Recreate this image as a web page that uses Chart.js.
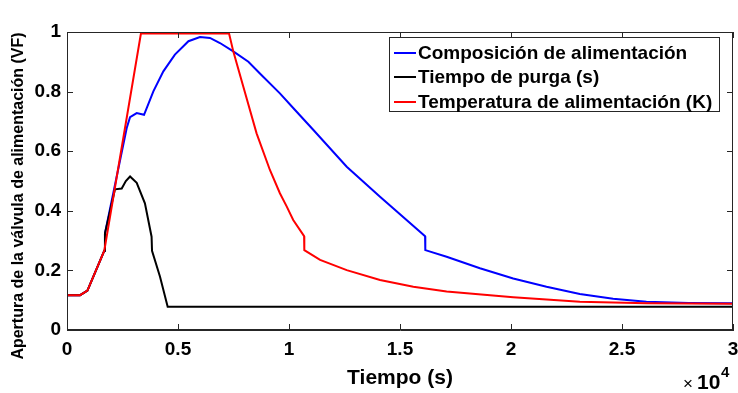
<!DOCTYPE html>
<html>
<head>
<meta charset="utf-8">
<script src="https://cdn.jsdelivr.net/npm/chart.js@4/dist/chart.umd.min.js"></script>
<style>
  html, body { margin: 0; padding: 0; background: #fff; }
  #wrap { position: relative; width: 738px; height: 393px; }
  #legend {
    position: absolute; left: 389px; top: 37px; width: 329px; height: 73px;
    border: 1px solid #262626; background: #fff; box-sizing: content-box;
    font-family: 'Liberation Sans', Arial, sans-serif; font-weight: bold; font-size: 19px; color: #000;
  }
  .row { position: absolute; left: 0; height: 24px; display: flex; align-items: center; white-space: nowrap; }
  .sw { display: inline-block; width: 22px; height: 2px; margin-left: 4px; margin-right: 2px; }
</style>
</head>
<body>
<div id="wrap">
  <canvas id="c" width="738" height="393"></canvas>
  <div id="legend"></div>
</div>
<script>
// ---- data ----
const xTicks = [0, 5000, 10000, 15000, 20000, 25000, 30000];
const yTicks = [0, 0.2, 0.4, 0.6, 0.8, 1];
const yTitle = 'Apertura de la válvula de alimentación (VF)';
const xTitle = 'Tiempo (s)';

const seriesNames = ['Composición de alimentación', 'Tiempo de purga (s)', 'Temperatura de alimentación (K)'];
const seriesColors = ['#0000FF', '#000000', '#FF0000'];

const blueT = [0, 590, 920, 1680, 1710, 2690, 2840, 3140, 3470, 3890, 4340, 4860, 5470, 5990, 6440, 6890, 7490, 8170, 8690, 9590, 10190, 11100, 12600, 14100, 16130, 16140, 17100, 18600, 20100, 21600, 23100, 24600, 26100, 28000, 30000];
const blueV = [0.117, 0.117, 0.132, 0.266, 0.324, 0.678, 0.714, 0.728, 0.722, 0.801, 0.868, 0.924, 0.969, 0.983, 0.980, 0.963, 0.935, 0.900, 0.861, 0.794, 0.745, 0.671, 0.548, 0.447, 0.315, 0.268, 0.246, 0.207, 0.173, 0.145, 0.121, 0.105, 0.095, 0.091, 0.090];

const blackT = [0, 590, 920, 1680, 1710, 2160, 2465, 2650, 2840, 3140, 3510, 3810, 3830, 4190, 4535, 30000];
const blackV = [0.117, 0.117, 0.132, 0.266, 0.324, 0.472, 0.475, 0.500, 0.515, 0.494, 0.425, 0.313, 0.266, 0.179, 0.078, 0.078];

const redT = [0, 590, 920, 1680, 3330, 7300, 7490, 7940, 8540, 9140, 9590, 9900, 10190, 10680, 10690, 11400, 12600, 14100, 15600, 17100, 20100, 23100, 26100, 30000];
const redV = [0.117, 0.117, 0.132, 0.266, 0.995, 0.995, 0.935, 0.817, 0.660, 0.537, 0.459, 0.414, 0.369, 0.315, 0.268, 0.235, 0.201, 0.168, 0.145, 0.129, 0.110, 0.095, 0.090, 0.088];

// ---- helpers ----
const pts = (t, v) => t.map((x, i) => ({ x: x, y: v[i] }));
const FONT = "'Liberation Sans', Arial, Helvetica, sans-serif";
const AXC = '#262626';

const boxTicks = {
  id: 'boxTicks',
  afterDraw(chart) {
    const { ctx, chartArea: a, scales } = chart;
    ctx.save();
    ctx.strokeStyle = AXC;
    ctx.lineWidth = 1;
    ctx.strokeRect(a.left + 0.5, a.top + 0.5, a.right - a.left - 1, a.bottom - a.top - 1);
    const L = 6;
    ctx.beginPath();
    xTicks.forEach(v => {
      const px = Math.round(scales.x.getPixelForValue(v)) + 0.5;
      ctx.moveTo(px, a.bottom); ctx.lineTo(px, a.bottom - L);
      ctx.moveTo(px, a.top); ctx.lineTo(px, a.top + L);
    });
    yTicks.forEach(v => {
      const py = Math.round(scales.y.getPixelForValue(v)) + 0.5;
      ctx.moveTo(a.left, py); ctx.lineTo(a.left + L, py);
      ctx.moveTo(a.right, py); ctx.lineTo(a.right - L, py);
    });
    ctx.stroke();
    // y axis title (MATLAB places it a bit below the axis centre)
    ctx.fillStyle = '#000';
    ctx.save();
    ctx.translate(19, 196);
    ctx.rotate(-Math.PI / 2);
    ctx.textAlign = 'center';
    ctx.textBaseline = 'middle';
    ctx.font = 'bold 16px ' + FONT;
    ctx.fillText(yTitle, 0, 0);
    ctx.restore();
    // x10^4 exponent label
    ctx.textBaseline = 'alphabetic';
    ctx.textAlign = 'left';
    ctx.font = '17px ' + FONT;
    ctx.fillText('\u00D7', 683, 389);
    ctx.font = 'bold 21px ' + FONT;
    ctx.fillText('10', 697, 389);
    ctx.font = 'bold 15px ' + FONT;
    ctx.fillText('4', 721, 377);
    ctx.restore();
  }
};

const chart = new Chart(document.getElementById('c'), {
  type: 'line',
  data: {
    datasets: [
      { label: seriesNames[0], data: pts(blueT, blueV), borderColor: seriesColors[0], backgroundColor: seriesColors[0], order: 2 },
      { label: seriesNames[1], data: pts(blackT, blackV), borderColor: seriesColors[1], backgroundColor: seriesColors[1], order: 1 },
      { label: seriesNames[2], data: pts(redT, redV), borderColor: seriesColors[2], backgroundColor: seriesColors[2], order: 0 }
    ]
  },
  options: {
    responsive: false,
    animation: false,
    devicePixelRatio: 1,
    parsing: false,
    layout: { autoPadding: false, padding: { left: 0, top: 32, right: 5, bottom: 0 } },
    elements: { point: { radius: 0 }, line: { borderWidth: 2, tension: 0 } },
    plugins: { legend: { display: false }, tooltip: { enabled: false } },
    scales: {
      x: {
        type: 'linear', min: 0, max: 30000,
        afterFit(s) { s.height = 63; s.paddingLeft = 0; s.paddingRight = 0; },
        afterBuildTicks(s) { s.ticks = xTicks.map(v => ({ value: v })); },
        ticks: {
          autoSkip: false, maxRotation: 0, padding: 8, color: '#000',
          font: { family: FONT, size: 19, weight: 'bold' },
          callback: v => String(v / 10000)
        },
        grid: { display: false, drawTicks: false },
        border: { display: true, color: AXC },
        title: { display: true, text: xTitle, color: '#000', font: { family: FONT, size: 21, weight: 'bold' }, padding: { top: 0, bottom: 2 } }
      },
      y: {
        type: 'linear', min: 0, max: 1,
        afterFit(s) { s.width = 67; s.paddingTop = 0; s.paddingBottom = 0; },
        afterBuildTicks(s) { s.ticks = yTicks.map(v => ({ value: v })); },
        ticks: {
          autoSkip: false, padding: 6, color: '#000',
          font: { family: FONT, size: 19, weight: 'bold' },
          callback: v => String(Number(v.toFixed(1)))
        },
        grid: { display: false, drawTicks: false },
        border: { display: true, color: AXC },
        title: { display: false }
      }
    }
  },
  plugins: [boxTicks]
});

// HTML legend built from the datasets
const leg = document.getElementById('legend');
chart.data.datasets.forEach((d, i) => {
  const row = document.createElement('div');
  row.className = 'row';
  row.style.top = (3 + i * 24.3) + 'px';
  const sw = document.createElement('span');
  sw.className = 'sw';
  sw.style.background = d.borderColor;
  const tx = document.createElement('span');
  tx.textContent = d.label;
  row.appendChild(sw); row.appendChild(tx);
  leg.appendChild(row);
});
</script>
</body>
</html>
